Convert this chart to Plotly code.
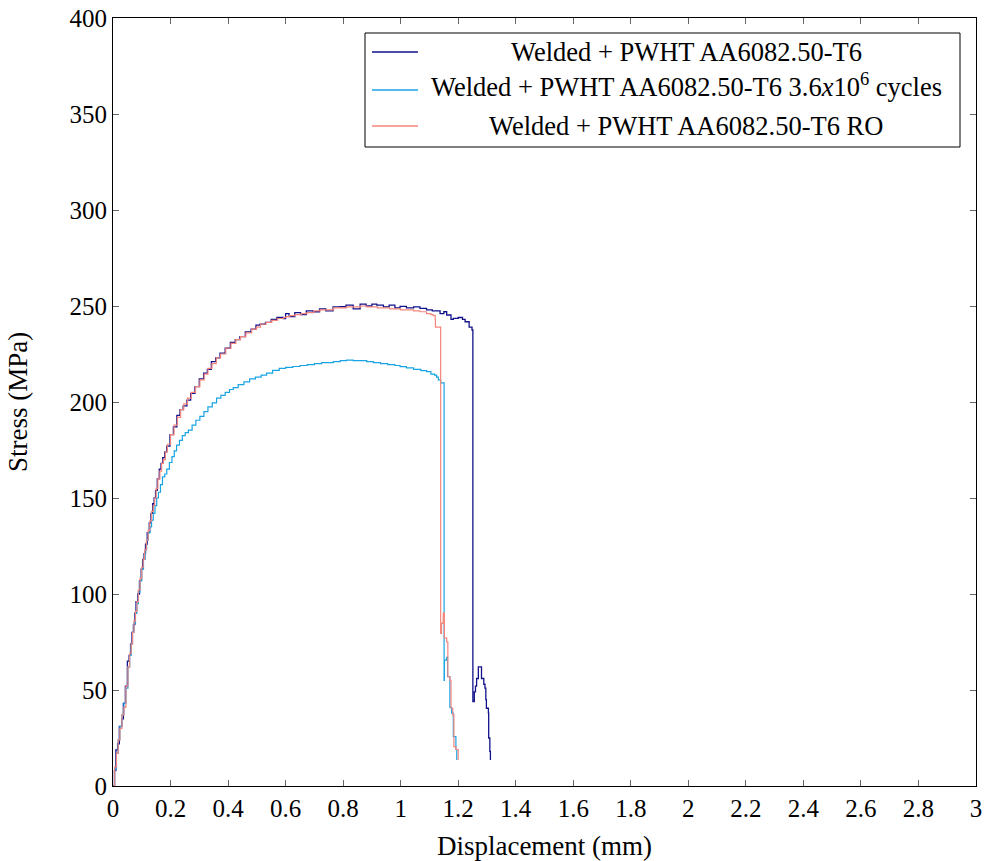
import plotly.graph_objects as go

# Tensile curves: displacement (mm) vs stress (MPa)
disp_pwht = [
    0.000, 0.005, 0.010, 0.016, 0.022, 0.030, 0.036, 0.043, 0.050, 0.056,
    0.061, 0.066, 0.071, 0.076, 0.080, 0.086, 0.092, 0.098, 0.103, 0.108,
    0.113, 0.119, 0.126, 0.132, 0.138, 0.143, 0.148, 0.154, 0.161, 0.167,
    0.173, 0.180, 0.187, 0.198, 0.210, 0.222, 0.233, 0.244, 0.257, 0.270,
    0.285, 0.300, 0.315, 0.328, 0.342, 0.357, 0.372, 0.390, 0.408, 0.425,
    0.441, 0.460, 0.480, 0.497, 0.511, 0.530, 0.550, 0.570, 0.592, 0.600,
    0.612, 0.632, 0.652, 0.672, 0.696, 0.718, 0.740, 0.765, 0.789, 0.810,
    0.835, 0.859, 0.880, 0.900, 0.917, 0.940, 0.960, 0.980, 0.998, 1.020,
    1.045, 1.067, 1.090, 1.110, 1.137, 1.150, 1.160, 1.175, 1.183, 1.200,
    1.215, 1.224, 1.238, 1.248, 1.250, 1.251, 1.256, 1.260, 1.264, 1.270,
    1.280, 1.281, 1.289, 1.293, 1.296, 1.298, 1.305, 1.306, 1.310, 1.312,
]
stress_pwht = [
    0, 8, 18.8, 22, 31, 35, 43, 52, 65, 68,
    74, 80, 84, 90, 96, 100, 107, 113, 118, 121,
    126, 132, 137, 142, 147, 150, 154, 160, 165, 168,
    171, 174, 177, 183, 187, 193, 196, 198, 201, 204.5,
    208, 212, 215, 217, 221, 223, 225.5, 228, 231, 232.5,
    234, 236.5, 238, 240, 240.5, 241.5, 243, 244, 243.5, 246,
    244.5, 246.5, 245.5, 247.5, 247, 248.5, 247.5, 249.5, 249.6, 250.5,
    248.5, 251, 250, 251, 250.5, 249.5, 250.5, 249, 249.8, 249,
    249.5, 248.8, 248, 247.5, 246, 247, 245.3, 243, 243.6, 244,
    243, 241.8, 239, 237.5, 237.5, 44, 49, 52, 56, 62,
    62, 56, 53, 51, 45, 40.5, 38, 25, 18, 13.5,
]

disp_cycles = [
    0.000, 0.006, 0.012, 0.018, 0.024, 0.031, 0.038, 0.045, 0.052, 0.058,
    0.063, 0.068, 0.073, 0.078, 0.083, 0.088, 0.094, 0.100, 0.106, 0.112,
    0.117, 0.123, 0.129, 0.134, 0.140, 0.146, 0.152, 0.158, 0.165, 0.172,
    0.180, 0.187, 0.196, 0.205, 0.213, 0.221, 0.231, 0.241, 0.251, 0.262,
    0.275, 0.288, 0.302, 0.316, 0.330, 0.345, 0.360, 0.375, 0.390, 0.405,
    0.418, 0.435, 0.455, 0.475, 0.495, 0.515, 0.534, 0.555, 0.578, 0.600,
    0.625, 0.650, 0.675, 0.700, 0.725, 0.750, 0.766, 0.790, 0.812, 0.835,
    0.860, 0.882, 0.905, 0.930, 0.955, 0.980, 0.998, 1.020, 1.045, 1.070,
    1.090, 1.105, 1.118, 1.125, 1.131, 1.139, 1.151, 1.152, 1.160, 1.163,
    1.171, 1.177, 1.183, 1.192, 1.195,
]
stress_cycles = [
    0, 9, 17, 24, 31, 37, 43, 51, 62, 68,
    74, 80, 85, 90, 95, 101, 107, 113, 118, 123,
    128, 132, 135, 138.5, 142, 146, 150, 153, 157, 161,
    162.5, 165, 168.5, 171.5, 174.5, 177.5, 180, 182.5, 184, 185.4,
    188, 190.5, 192.5, 195, 197.5, 199.5, 202, 203.5, 205, 206.5,
    207.5, 209, 210.5, 212, 213, 214, 215, 216.5, 217.5, 218,
    218.5, 219, 219.5, 220, 220.5, 220.5, 221, 221.5, 221.8, 221.5,
    221.5, 221, 220.5, 220, 219.5, 219, 218.4, 217.8, 217, 216.3,
    215.8, 214.5, 214, 213, 211.5, 210, 55, 65.6, 67, 57,
    41, 38, 25.7, 19, 13.5,
]

disp_ro = [
    0.000, 0.006, 0.012, 0.018, 0.024, 0.031, 0.038, 0.045, 0.052, 0.058,
    0.063, 0.068, 0.073, 0.078, 0.083, 0.088, 0.094, 0.100, 0.105, 0.110,
    0.116, 0.122, 0.128, 0.134, 0.140, 0.145, 0.150, 0.156, 0.163, 0.169,
    0.175, 0.182, 0.189, 0.200, 0.212, 0.224, 0.235, 0.246, 0.259, 0.272,
    0.287, 0.302, 0.317, 0.330, 0.344, 0.359, 0.374, 0.392, 0.410, 0.427,
    0.443, 0.462, 0.482, 0.499, 0.513, 0.532, 0.552, 0.572, 0.594, 0.602,
    0.614, 0.634, 0.654, 0.674, 0.698, 0.720, 0.742, 0.767, 0.791, 0.812,
    0.837, 0.861, 0.882, 0.902, 0.919, 0.942, 0.962, 0.982, 1.000, 1.022,
    1.045, 1.067, 1.090, 1.105, 1.113, 1.120, 1.121, 1.131, 1.139, 1.142,
    1.146, 1.148, 1.152, 1.160, 1.164, 1.171, 1.175, 1.181, 1.185, 1.192,
    1.200,
]
stress_ro = [
    0, 10, 17, 24, 30, 37, 41, 52, 62, 69,
    74, 80, 86, 91, 96, 102, 108, 114, 118, 123,
    128, 133, 138, 143, 146, 150, 155, 160, 164, 168,
    170, 174, 178, 183, 188, 192, 196, 199, 202, 205,
    208, 211.5, 214.5, 217.5, 220, 223, 225, 228, 230.5, 232.5,
    234, 236, 238, 239, 240.5, 241.5, 242.5, 243.5, 244, 244.5,
    245, 245.5, 246, 246.5, 247.5, 248, 248, 249, 249, 249.5,
    249.5, 250, 249.5, 249.5, 249, 249, 248.5, 248.5, 248, 248,
    247.5, 247, 246, 245.5, 245, 243, 239, 239, 79.5, 84.7,
    85, 90, 77, 75, 57, 55, 40.5, 37, 20.5, 19,
    13.5,
]

series_names = [
    "Welded + PWHT AA6082.50-T6",
    "Welded + PWHT AA6082.50-T6 3.6<i>x</i>10<sup>6</sup> cycles",
    "Welded + PWHT AA6082.50-T6 RO",
]
series_colors = ["#12128a", "#18a4e4", "#f5867c"]

x_ticks = [round(0.2 * i, 1) for i in range(16)]
y_ticks = list(range(0, 401, 50))

FONT = "Liberation Serif"
W, H = 988, 861
L, R, T, B = 113, 12, 18, 75

fig = go.Figure()
for xs, ys, name, col, lw in [
    (disp_pwht, stress_pwht, series_names[0], series_colors[0], 1.3),
    (disp_cycles, stress_cycles, series_names[1], series_colors[1], 1.2),
    (disp_ro, stress_ro, series_names[2], series_colors[2], 1.2),
]:
    fig.add_trace(go.Scatter(x=xs, y=ys, mode="lines", name=name,
                             line=dict(color=col, width=lw, shape="hv"),
                             showlegend=False))

axis_common = dict(
    showgrid=False, zeroline=False, showline=True, linecolor="black",
    linewidth=1, mirror="ticks", ticks="inside", ticklen=6, tickwidth=1,
    tickcolor="#666666", automargin=False,
    tickfont=dict(family=FONT, size=25, color="black"),
)
fig.update_xaxes(range=[0, 3], tickvals=x_ticks,
                 ticktext=[("%g" % v) for v in x_ticks],
                 title=dict(text="Displacement (mm)", standoff=18,
                            font=dict(family=FONT, size=27, color="black")),
                 **axis_common)
fig.update_yaxes(range=[0, 400], tickvals=y_ticks,
                 title=dict(text="Stress (MPa)", standoff=34,
                            font=dict(family=FONT, size=27, color="black")),
                 **axis_common)


# pixel -> paper coordinate helpers for the legend box
def px(xp):
    return (xp - L) / (W - L - R)


def py(yp):
    return (H - B - yp) / (H - T - B)


shapes = [dict(type="rect", xref="paper", yref="paper",
               x0=px(365), x1=px(960), y0=py(147), y1=py(33),
               line=dict(color="black", width=1), fillcolor="white", layer="above")]
annotations = []
line_rows = [52, 90, 126]
text_rows = [52, 85, 126]
for name, col, yl, yt in zip(series_names, series_colors, line_rows, text_rows):
    shapes.append(dict(type="line", xref="paper", yref="paper",
                       x0=px(372), x1=px(418), y0=py(yl), y1=py(yl),
                       line=dict(color=col, width=1.3), layer="above"))
    annotations.append(dict(text=name, xref="paper", yref="paper",
                            x=px(686), y=py(yt), xanchor="center", yanchor="middle",
                            showarrow=False,
                            font=dict(family=FONT, size=26.5, color="black")))

fig.update_layout(
    width=W, height=H,
    margin=dict(l=L, r=R, t=T, b=B),
    paper_bgcolor="white", plot_bgcolor="white",
    shapes=shapes, annotations=annotations,
)

fig.write_html("out.html")
